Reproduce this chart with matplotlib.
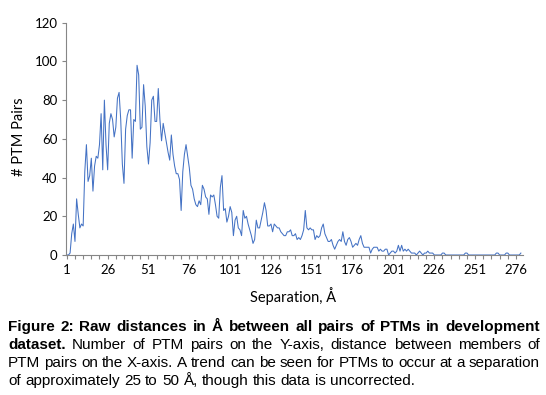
import matplotlib
matplotlib.use('Agg')
import matplotlib.pyplot as plt

# counts per separation bin (1 .. 279 Å)
pairs_a = [0, 0, 1, 11, 16, 7, 29, 21, 14, 16,
           15, 43, 57, 38, 41, 50, 33, 46, 51, 50,
           57, 73, 44, 80, 57, 44, 68, 73, 70, 61,
           66, 81, 84, 70, 47, 37, 65, 72, 75, 75,
           50, 70, 69, 98, 93, 65, 66, 88, 77, 56,
           47, 58, 80, 82, 69, 69, 86, 70, 59, 68,
           63, 58, 53, 49, 62, 52, 46, 42, 42, 39,
           23, 43, 52, 57, 51, 45]
pairs_b = [36, 34, 29, 26, 25, 28, 26, 36, 34, 30,
           29, 21, 31, 30, 31, 26, 20, 19, 35, 41,
           23, 24, 17, 20, 25, 22, 10, 18, 20, 14,
           13, 10, 23, 19, 20, 16, 13, 10, 6, 8,
           18, 14, 14, 18, 22, 27, 23, 15, 15, 16,
           12, 16, 15, 14, 14, 12, 11, 10, 10, 12,
           12, 13, 10, 10, 11, 8, 9, 8, 10, 13]
pairs_c = [23, 14, 13, 14, 13, 13, 8, 10, 9, 10,
           14, 16, 11, 9, 7, 7, 8, 5, 3, 5,
           7, 8, 7, 12, 7, 5, 8, 9, 7, 4,
           5, 6, 5, 8, 10, 6, 4, 4, 4, 4,
           1, 3, 4, 4, 4, 2, 3, 2, 2, 3,
           3, 0, 1, 2, 2, 1, 2, 5, 2, 5,
           2, 3, 2, 3, 2, 1, 1, 1, 0, 1,
           2, 1, 0, 1, 1, 2, 1, 1, 1, 0,
           0, 0, 0, 0, 1, 1, 0, 0, 0, 0,
           0, 0, 0, 0, 0, 0, 0, 0, 1, 1,
           0, 0, 0, 0, 0, 0, 0, 0, 0, 0,
           0, 0, 0, 0, 0, 0, 0, 1, 1, 0,
           0, 0, 0, 1, 1, 0, 0, 0, 0, 0,
           0, 0, 1]
pairs = pairs_a + pairs_b + pairs_c
separation = list(range(1, len(pairs) + 1))

x_labels = list(range(1, 277, 25))
y_ticks = [0, 20, 40, 60, 80, 100, 120]

caption_lines = [
    [("Figure", "bold"), ("2:", "bold"), ("Raw", "bold"), ("distances", "bold"), ("in", "bold"),
     ("Å", "bold"), ("between", "bold"), ("all", "bold"), ("pairs", "bold"), ("of", "bold"),
     ("PTMs", "bold"), ("in", "bold"), ("development", "bold")],
    [("dataset.", "bold"), ("Number", "normal"), ("of", "normal"), ("PTM", "normal"),
     ("pairs", "normal"), ("on", "normal"), ("the", "normal"), ("Y-axis,", "normal"),
     ("distance", "normal"), ("between", "normal"), ("members", "normal"), ("of", "normal")],
    [(w, "normal") for w in "PTM pairs on the X-axis. A trend can be seen for PTMs to occur at a separation".split()],
    [(w, "normal") for w in "of approximately 25 to 50 Å, though this data is uncorrected.".split()],
]

W, H = 546, 395
fig = plt.figure(figsize=(W / 100, H / 100), dpi=100)
ax = fig.add_axes([66 / W, (H - 255) / H, (523 - 66) / W, (255 - 22.7) / H])

ax.plot(separation, pairs, color='#4472C4', linewidth=0.75)

grey = '#868686'
ax.set_xlim(0.5, 280.3)
ax.set_ylim(0, 120)
ax.set_yticks(y_ticks)
ax.set_xticks(x_labels)
ax.set_xticks(range(1, 281, 5), minor=True)
for s in ['top', 'right']:
    ax.spines[s].set_visible(False)
for s in ['left', 'bottom']:
    ax.spines[s].set_color(grey)
    ax.spines[s].set_linewidth(0.8)
ax.tick_params(which='both', direction='out', length=3, width=0.8, color=grey)
ax.tick_params(axis='x', which='major', labelsize=9.5, pad=3.5)
ax.tick_params(axis='y', labelsize=9.5, pad=3)
for lab in ax.get_xticklabels() + ax.get_yticklabels():
    lab.set_family('Lato')

fig.text(293 / W, 1 - 296 / H, "Separation, Å", ha='center', va='center',
         fontsize=10.5, family='Lato')
fig.text(19 / W, 1 - 137 / H, "# PTM Pairs", ha='center', va='center',
         rotation=90, fontsize=10.5, family='Lato')

# justified caption below the chart
renderer = fig.canvas.get_renderer()
x0, x1 = 8, 540
cap_size = 11
baselines = [331, 349, 367, 385]
for n, (words, base) in enumerate(zip(caption_lines, baselines)):
    texts = []
    widths = []
    for w, wt in words:
        t = fig.text(0, 1 - base / H, w, fontsize=cap_size, fontweight=wt,
                     family='Liberation Sans', va='baseline', ha='left')
        texts.append(t)
        widths.append(t.get_window_extent(renderer).width)
    if n < len(caption_lines) - 1:
        gap = (x1 - x0 - sum(widths)) / (len(words) - 1)
    else:
        gap = 0.278 * cap_size * 100 / 72
    x = x0
    for t, wdt in zip(texts, widths):
        t.set_x(x / W)
        x += wdt + gap

fig.savefig('out.png', dpi=100)
